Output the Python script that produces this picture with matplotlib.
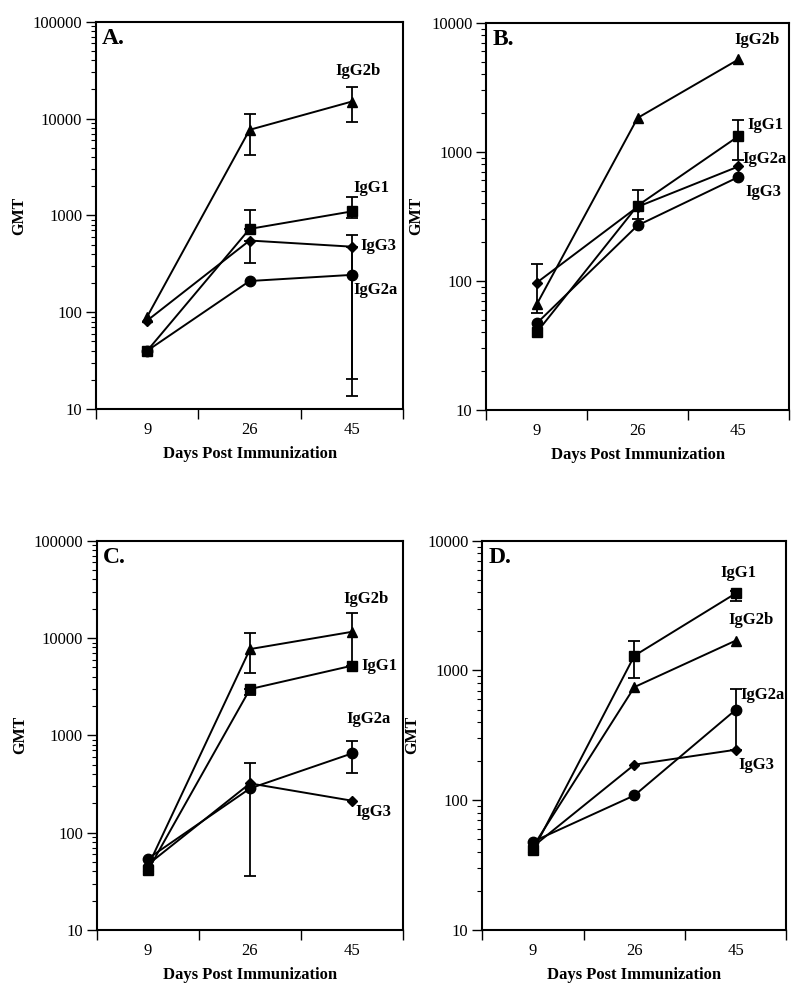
import matplotlib
matplotlib.use("Agg")
import matplotlib.pyplot as plt
from matplotlib.ticker import FixedLocator, NullFormatter, LogLocator

plt.rcParams['font.family'] = ['Liberation Serif', 'DejaVu Serif']

DAYS = ['9', '26', '45']
SERIES = ['IgG1', 'IgG2a', 'IgG2b', 'IgG3']
MARKERS = {'IgG1': 's', 'IgG2a': 'o', 'IgG2b': '^', 'IgG3': 'D'}
MSIZE = {'IgG1': 7.5, 'IgG2a': 7.5, 'IgG2b': 7, 'IgG3': 5.5}

# Panel A
A_IGG1 = [40, 725, 1100]
A_IGG2A = [40, 210, 243]
A_IGG2B = [90, 7650, 15000]
A_IGG3 = [82, 550, 475]
A_ERR = {'IgG1': [None, (725, 1130), (940, 1540)],
         'IgG2a': [None, None, (13.6, 630)],
         'IgG2b': [None, (4200, 11100), (9300, 21100)],
         'IgG3': [None, (323, 550), (20.4, 475)]}

# Panel B
B_IGG1 = [40, 383, 1320]
B_IGG2A = [47, 269, 638]
B_IGG2B = [66, 1830, 5190]
B_IGG3 = [97, 375, 770]
B_ERR = {'IgG1': [None, (300, 509), (870, 1760)],
         'IgG2a': [None, None, None],
         'IgG2b': [None, None, None],
         'IgG3': [(56, 136), None, None]}

# Panel C
C_IGG1 = [41, 2990, 5200]
C_IGG2A = [54, 285, 653]
C_IGG2B = [45, 7700, 11600]
C_IGG3 = [47, 321, 213]
C_ERR = {'IgG1': [None, (2600, 2990), None],
         'IgG2a': [None, (35.9, 524), (413, 881)],
         'IgG2b': [None, (4340, 11350), (5200, 17900)],
         'IgG3': [None, None, None]}

# Panel D
D_IGG1 = [41, 1300, 3930]
D_IGG2A = [48, 109, 498]
D_IGG2B = [44, 745, 1700]
D_IGG3 = [44, 188, 245]
D_ERR = {'IgG1': [None, (880, 1700), (3450, 4130)],
         'IgG2a': [None, None, (245, 714)],
         'IgG2b': [None, None, None],
         'IgG3': [None, None, None]}

# label positions (x in category units, y in GMT)
A_LABELS = {'IgG2b': (2.56, 31000), 'IgG1': (2.69, 1920), 'IgG3': (2.76, 484), 'IgG2a': (2.73, 170)}
B_LABELS = {'IgG2b': (2.68, 7400), 'IgG1': (2.77, 1625), 'IgG2a': (2.76, 880), 'IgG3': (2.75, 485)}
C_LABELS = {'IgG2b': (2.64, 25100), 'IgG1': (2.77, 5200), 'IgG2a': (2.66, 1460), 'IgG3': (2.71, 162)}
D_LABELS = {'IgG1': (2.53, 5610), 'IgG2b': (2.65, 2430), 'IgG2a': (2.76, 643), 'IgG3': (2.70, 186)}

panels = [
    ('A.', [A_IGG1, A_IGG2A, A_IGG2B, A_IGG3], A_ERR, A_LABELS, 1e5, [0.120, 0.586, 0.384, 0.392], -0.225),
    ('B.', [B_IGG1, B_IGG2A, B_IGG2B, B_IGG3], B_ERR, B_LABELS, 1e4, [0.608, 0.585, 0.378, 0.392], -0.205),
    ('C.', [C_IGG1, C_IGG2A, C_IGG2B, C_IGG3], C_ERR, C_LABELS, 1e5, [0.121, 0.0587, 0.383, 0.394], -0.225),
    ('D.', [D_IGG1, D_IGG2A, D_IGG2B, D_IGG3], D_ERR, D_LABELS, 1e4, [0.603, 0.0587, 0.380, 0.394], -0.205),
]


def draw_panel(ax, letter, values, errs, labels, ytop, ylab_x):
    xs = [0.5, 1.5, 2.5]
    for name, vals in zip(SERIES, values):
        ax.plot(xs, vals, color='black', lw=1.4, marker=MARKERS[name],
                ms=MSIZE[name], zorder=3)
        for x, v, e in zip(xs, vals, errs[name]):
            if e is None:
                continue
            lo, hi = e
            ax.errorbar([x], [v], yerr=[[v - lo], [hi - v]], fmt='none',
                        ecolor='black', elinewidth=1.3, capsize=4.5,
                        capthick=1.3, zorder=2)
        lx, ly = labels[name]
        ax.text(lx, ly, name, ha='center', va='center', fontsize=12,
                fontweight='bold')

    ax.set_yscale('log')
    ax.set_ylim(10, ytop)
    ax.set_xlim(0, 3)
    ax.yaxis.set_minor_locator(LogLocator(base=10, subs=range(2, 10)))
    ax.yaxis.set_minor_formatter(NullFormatter())
    ax.set_yticks([10 ** k for k in range(1, 6) if 10 ** k <= ytop])
    ax.set_yticklabels([str(10 ** k) for k in range(1, 6) if 10 ** k <= ytop])
    ax.tick_params(axis='y', which='major', direction='out', length=7,
                   width=1, labelsize=12, pad=3)
    ax.tick_params(axis='y', which='minor', direction='out', length=3.5,
                   width=0.8)

    ax.xaxis.set_major_locator(FixedLocator([0, 1, 2, 3]))
    ax.xaxis.set_major_formatter(NullFormatter())
    ax.xaxis.set_minor_locator(FixedLocator(xs))
    ax.set_xticklabels(DAYS, minor=True)
    ax.tick_params(axis='x', which='major', direction='out', length=7, width=1)
    ax.tick_params(axis='x', which='minor', length=0, labelsize=12, pad=9)

    for sp in ax.spines.values():
        sp.set_linewidth(1.5)

    ax.set_xlabel('Days Post Immunization', fontsize=12, fontweight='bold',
                  labelpad=6)
    ax.set_ylabel('GMT', fontsize=11.5, fontweight='bold')
    ax.yaxis.set_label_coords(ylab_x, 0.5)
    ax.text(0.02, 0.985, letter, transform=ax.transAxes, ha='left', va='top',
            fontsize=17, fontweight='bold')


fig = plt.figure(figsize=(8, 9.88), dpi=100)
for letter, values, errs, labels, ytop, rect, ylab_x in panels:
    ax = fig.add_axes(rect)
    draw_panel(ax, letter, values, errs, labels, ytop, ylab_x)

fig.savefig('out.png', dpi=100)
